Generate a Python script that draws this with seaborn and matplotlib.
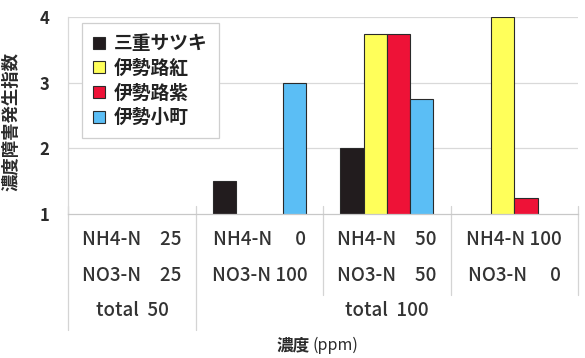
import numpy as np
import pandas as pd
import matplotlib
matplotlib.use("Agg")
import matplotlib.pyplot as plt
from matplotlib.patches import Patch
from matplotlib.transforms import blended_transform_factory
import seaborn as sns

# Treatment levels (ppm)
nh4 = [25, 0, 50, 100]
no3 = [25, 100, 50, 0]
totals = [50, 100]          # total 50 for the first plot, total 100 for the rest

cultivars = ["三重サツキ", "伊勢路紅", "伊勢路紫", "伊勢小町"]
colors = ["#221c1e", "#ffff5a", "#ee1237", "#5bbef5"]

# Injury index per cultivar (NaN: no bar above the baseline of 1)
mie_satsuki = [np.nan, 1.5, 2.0, np.nan]
ise_beni = [np.nan, np.nan, 3.75, 4.0]
ise_murasaki = [np.nan, np.nan, 3.75, 1.25]
ise_komachi = [np.nan, 3.0, 2.75, np.nan]

yticks = [1, 2, 3, 4]

sns.set_theme(style="white")
plt.rcParams["font.family"] = ["Noto Sans CJK JP", "DejaVu Sans"]

treatments = [f"T{i}" for i in range(len(nh4))]
rows = []
for name, vals in zip(cultivars, [mie_satsuki, ise_beni, ise_murasaki, ise_komachi]):
    for t, v in zip(treatments, vals):
        rows.append({"treatment": t, "cultivar": name, "index": v})
df = pd.DataFrame(rows).dropna()

fig = plt.figure(figsize=(5.85, 3.58), dpi=100)
ax = fig.add_axes([0.117, 0.402, 0.871, 0.55])

sns.barplot(data=df, x="treatment", y="index", hue="cultivar",
            order=treatments, hue_order=cultivars, palette=colors,
            saturation=1, width=0.73, edgecolor="#2a2a2a", linewidth=0.8,
            errorbar=None, legend=False, ax=ax)

ax.set_ylim(1, 4)
ax.set_xlim(-0.5, len(nh4) - 0.5)
ax.set_yticks(yticks)
ax.set_yticklabels([str(t) for t in yticks], fontsize=12, fontweight="bold",
                   color="#2b2b2b")
ax.tick_params(axis="y", length=0, pad=14)
ax.set_xticks([])
ax.set_xlabel("")
ax.set_ylabel("濃度障害発生指数", fontsize=12.5, fontweight="bold",
              color="#2b2b2b", labelpad=12)
ax.yaxis.set_label_coords(-0.095, 0.47)

grid_c = "#d9d9d9"
for y in yticks[1:]:
    ax.axhline(y, color=grid_c, lw=0.9, zorder=0)
for s in ["top", "right"]:
    ax.spines[s].set_visible(False)
ax.spines["left"].set_color(grid_c)
ax.spines["bottom"].set_color("#c8c8c8")
ax.spines["left"].set_linewidth(0.9)
ax.spines["bottom"].set_linewidth(0.9)

# Category table under the axis
tr = blended_transform_factory(ax.transData, ax.transAxes)
txt_c = "#333333"
fs = 13.5
row_y = [-0.13, -0.31, -0.49]
for i, (a, b) in enumerate(zip(nh4, no3)):
    ax.text(i, row_y[0], f"NH4-N {a:>3}".replace("  ", "\u2002\u2002"),
            transform=tr, ha="center", va="center", fontsize=fs, color=txt_c,
            fontweight="medium")
    ax.text(i, row_y[1], f"NO3-N {b:>3}".replace("  ", "\u2002\u2002"),
            transform=tr, ha="center", va="center", fontsize=fs, color=txt_c,
            fontweight="medium")
ax.text(0, row_y[2], f"total  {totals[0]}", transform=tr, ha="center",
        va="center", fontsize=fs, color=txt_c, fontweight="medium")
ax.text(2, row_y[2], f"total  {totals[1]}", transform=tr, ha="center",
        va="center", fontsize=fs, color=txt_c, fontweight="medium")

sep_c = "#d4d4d4"
for x, y_end in [(-0.5, -0.59), (0.5, -0.59), (1.5, -0.41), (2.5, -0.41), (3.5, -0.41)]:
    ax.plot([x, x], [0.04, y_end], transform=tr, color=sep_c, lw=0.9,
            clip_on=False)

fig.text(0.53, 0.035, "濃度", ha="right", va="center",
         fontsize=12, color="#2b2b2b", fontweight="bold")
fig.text(0.534, 0.035, "(ppm)", ha="left", va="center",
         fontsize=11.5, color="#2b2b2b")

handles = [Patch(facecolor=c, edgecolor="#2a2a2a", linewidth=0.8) for c in colors]
leg = ax.legend(handles, cultivars, loc="upper left",
                bbox_to_anchor=(0.027, 0.97), borderaxespad=0, fontsize=13.5,
                handlelength=0.6, handleheight=0.6, handletextpad=0.5,
                labelspacing=0.3, borderpad=0.6, frameon=True,
                fancybox=False, framealpha=1)
leg.get_frame().set_edgecolor("#cfcfcf")
leg.get_frame().set_linewidth(0.9)
for t in leg.get_texts():
    t.set_color("#222222")
    t.set_fontweight("bold")

fig.savefig("out.png", dpi=100, facecolor="white")
